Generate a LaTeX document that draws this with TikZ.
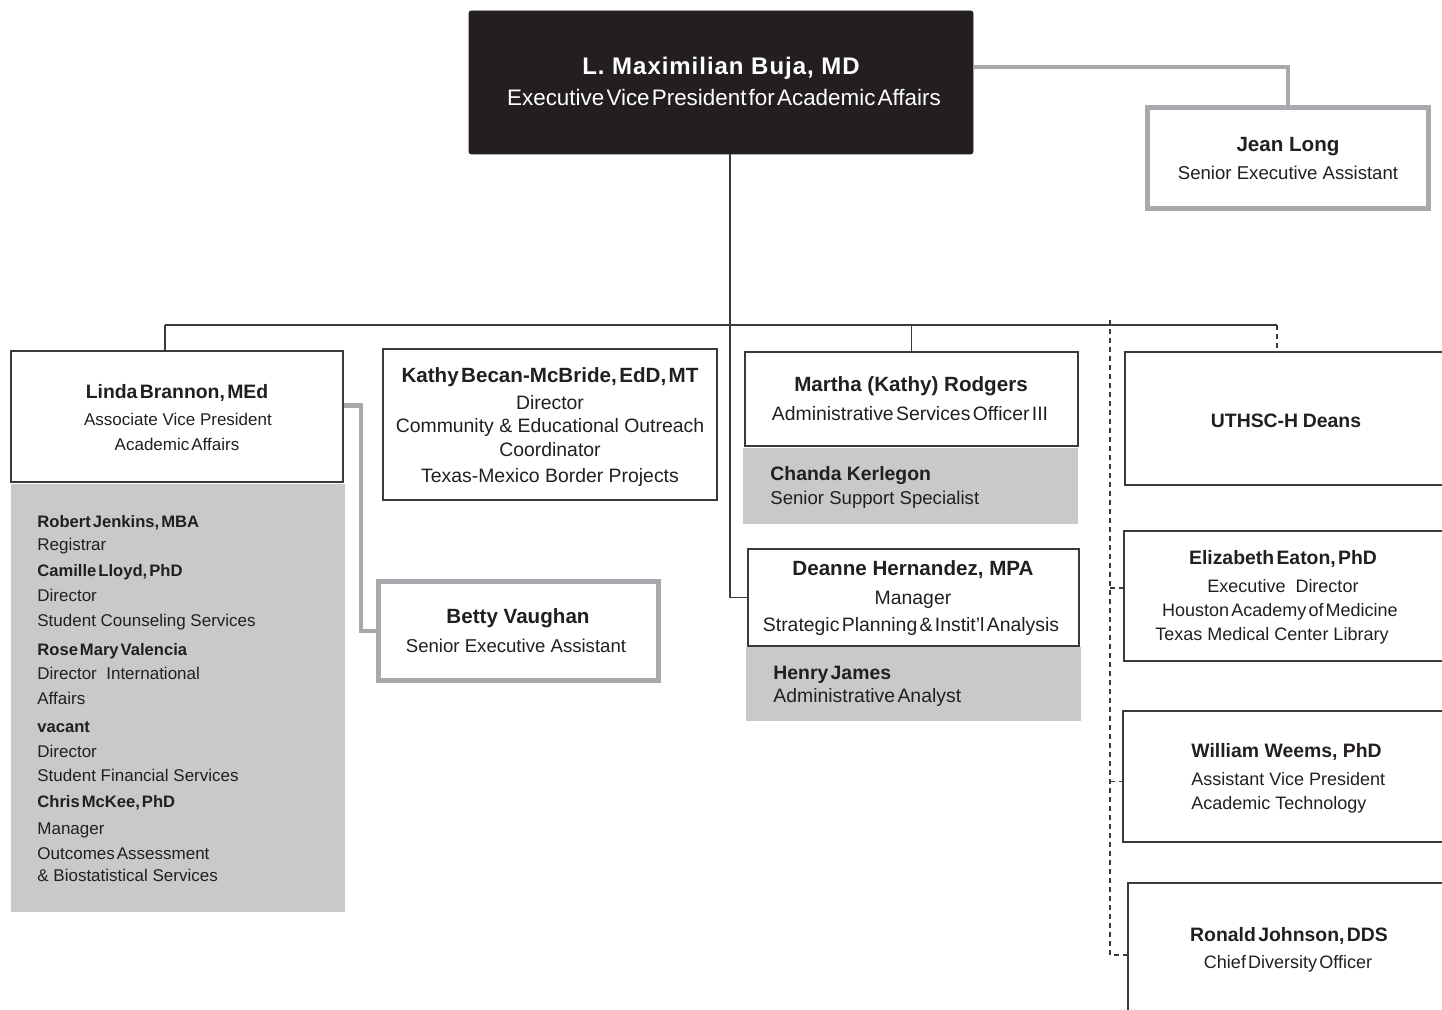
\documentclass[tikz,border=0pt]{standalone}
\usepackage{fontspec}
\setmainfont{Liberation Sans}
\usetikzlibrary{fit}
\definecolor{topblack}{HTML}{231F20}
\definecolor{ink}{HTML}{231F20}
\definecolor{edge}{HTML}{3A3A3A}
\definecolor{lgray}{HTML}{A7A9AC}
\definecolor{pgray}{HTML}{C8C9CB}
\newcommand\bujaName{\fontsize{12}{14}\selectfont\bfseries\addfontfeature{LetterSpace=4}}
\newcommand\bujaSub{\fontsize{11.2}{13}\selectfont\spaceskip=.1em\relax}
\newcommand\nmA{\fontsize{10.3}{12}\selectfont\bfseries}
\newcommand\nmB{\fontsize{9.7}{12}\selectfont\bfseries}
\newcommand\nmC{\fontsize{8.3}{10}\selectfont\bfseries}
\newcommand\bdA{\fontsize{9.3}{11}\selectfont}
\newcommand\bdB{\fontsize{9.7}{11}\selectfont}
\newcommand\bdC{\fontsize{8.5}{10}\selectfont}
\newcommand\bdD{\fontsize{9}{11}\selectfont}
\newcommand\tightsp{\spaceskip=.12em\relax}
\tikzset{
  topbox/.style={fill=topblack, draw=topblack, rounded corners=1.2pt, inner sep=0pt},
  box/.style={draw=edge, line width=0.7pt, fill=white, inner sep=0pt},
  graybox/.style={draw=lgray, line width=2.5pt, fill=white, inner sep=0pt},
  panel/.style={fill=pgray, inner sep=0pt},
  conn/.style={draw=edge, line width=0.65pt},
  gconn/.style={draw=lgray, line width=2.2pt},
  dconn/.style={draw=edge, line width=0.6pt, dash pattern=on 2.5pt off 2pt},
  txt/.style={inner sep=0pt, anchor=mid, text=ink, yshift=-1.3pt},
  ltxt/.style={inner sep=0pt, anchor=mid west, text=ink, yshift=-1.3pt},
  gpn/.style={ltxt, font=\nmC\tightsp},
  gpb/.style={ltxt, font=\bdC}
}
\begin{document}
\begin{tikzpicture}[x=0.5pt,y=-0.5pt]
\useasboundingbox (0,0) rectangle (1442,1010);
\clip (0,0) rectangle (1442,1010);

% ---- panels (gray fill) ----
\node[panel, fit={(11,484)(345,912)}] (lpanel) {};
\node[panel, fit={(743,448)(1078,524)}] (cpanel) {};
\node[panel, fit={(746,647)(1081,721)}] (hpanel) {};

% ---- boxes ----
\node[topbox, fit={(469,11)(973,154)}] (buja) {};
\node[graybox, fit={(1147.5,107.5)(1428.5,208.5)}] (jean) {};
\node[box, fit={(11,351)(343,482)}] (linda) {};
\node[box, fit={(383,349)(717,500)}] (kathy) {};
\node[box, fit={(745,352)(1078,446)}] (martha) {};
\node[box, fit={(748,549)(1079,646)}] (deanne) {};
\node[graybox, fit={(378.5,581.5)(658.5,680.5)}] (betty) {};
\node[box, fit={(1125,352)(1460,485)}] (uthsc) {};
\node[box, fit={(1124,531)(1460,661)}] (eaton) {};
\node[box, fit={(1123,711)(1460,842)}] (weems) {};
\node[box, fit={(1128,883)(1460,1027)}] (johnson) {};

% ---- connectors ----
\coordinate (bl) at (165,325);
\coordinate (br) at (1277,325);
\coordinate (dv) at (1110,320);
\draw[gconn] ([yshift=7.75pt]buja.east) -| (jean.north);
\draw[conn] ([xshift=4.5pt]buja.south) |- (deanne.west);
\draw[conn] (bl) -- (br);
\draw[conn] (bl) -- (bl |- linda.north);
\draw[conn] (martha.north |- bl) -- (martha.north);
\draw[dconn] (br) -- (br |- uthsc.north);
\draw[dconn] (dv) |- (johnson.west);
\draw[dconn] ([yshift=4pt]dv |- eaton.west) -- ([yshift=4pt]eaton.west);
\draw[dconn] ([yshift=-2.5pt]dv |- weems.west) -- ([yshift=-2.5pt]weems.west);
\draw[gconn] ([yshift=5.5pt]linda.east) -- ++(17,0) |- (betty.west);

% ---- texts ----
\node[txt, text=white, font=\bujaName] (bujaN) at (721,67) {L.\ Maximilian\ Buja,\ MD};
\node[txt, text=white, font=\bujaSub] (bujaT) at (724,98) {Executive Vice President for Academic Affairs};

\node[txt, font=\nmA] (jeanN) at (1288,144) {Jean Long};
\node[txt, font=\bdA] (jeanT) at (1288,172) {Senior Executive Assistant};

\node[txt, font=\nmB\tightsp] (lindaN) at (177,391) {Linda Brannon, MEd};
\node[txt, font=\bdC] (lindaT1) at (178,418) {Associate Vice President};
\node[txt, font=\bdC\tightsp] (lindaT2) at (177,443) {Academic Affairs};

\foreach \i/\yy/\st/\tx in {
  1/520/gpn/{Robert Jenkins, MBA},
  2/543/gpb/{Registrar},
  3/569/gpn/{Camille Lloyd, PhD},
  4/594/gpb/{Director},
  5/619/gpb/{Student Counseling Services},
  6/648/gpn/{Rose Mary Valencia},
  7/672/gpb/{Director\ \ International},
  8/697/gpb/{Affairs},
  9/725/gpn/{vacant},
  10/750/gpb/{Director},
  11/774/gpb/{Student Financial Services},
  12/800/gpn/{Chris McKee, PhD},
  13/827/gpb/{Manager},
  14/852/gpb/{Outcomes\hspace{.12em}Assessment},
  15/874/gpb/{\& Biostatistical Services}} {
  \node[\st] (gp\i) at (37,\yy) {\tx};
}

\node[txt, font=\nmA\tightsp] (kathyN) at (550,375) {Kathy Becan-McBride, EdD, MT};
\node[txt, font=\bdB] (kathyT1) at (550,402) {Director};
\node[txt, font=\bdB] (kathyT2) at (550,425) {Community \& Educational Outreach};
\node[txt, font=\bdB] (kathyT3) at (550,449) {Coordinator};
\node[txt, font=\bdB] (kathyT4) at (550,475) {Texas-Mexico Border Projects};

\node[txt, font=\nmA] (marthaN) at (911,384) {Martha (Kathy) Rodgers};
\node[txt, font=\bdB\tightsp] (marthaT) at (910,413) {Administrative Services Officer III};

\node[ltxt, font=\nmB] (chandaN) at (770,473) {Chanda Kerlegon};
\node[ltxt, font=\bdA] (chandaT) at (770,497) {Senior Support Specialist};

\node[txt, font=\nmA] (deanneN) at (913,568) {Deanne Hernandez, MPA};
\node[txt, font=\bdB] (deanneT1) at (913,597) {Manager};
\node[txt, font=\bdB\tightsp] (deanneT2) at (911,624) {Strategic Planning \& Instit'l Analysis};

\node[ltxt, font=\nmB\tightsp] (henryN) at (773,672) {Henry James};
\node[ltxt, font=\bdB\tightsp] (henryT) at (773,695) {Administrative Analyst};

\node[txt, font=\nmA] (bettyN) at (518,616) {Betty Vaughan};
\node[txt, font=\bdA] (bettyT) at (516,645) {Senior Executive Assistant};

\node[txt, font=\nmB\tightsp] (uthscN) at (1286,420) {UTHSC-H\ \ Deans};

\node[txt, font=\nmB\tightsp] (eatonN) at (1283,557) {Elizabeth Eaton, PhD};
\node[txt, font=\bdD] (eatonT1) at (1283,585) {Executive\ \ Director};
\node[txt, font=\bdD\tightsp] (eatonT2) at (1280,609) {Houston Academy of Medicine};
\node[txt, font=\bdD] (eatonT3) at (1272,633) {Texas Medical Center Library};

\node[ltxt, font=\nmB] (weemsN) at (1191,750) {William Weems, PhD};
\node[ltxt, font=\bdD] (weemsT1) at (1191,778) {Assistant Vice President};
\node[ltxt, font=\bdD] (weemsT2) at (1191,802) {Academic Technology};

\node[txt, font=\nmB\tightsp] (johnsonN) at (1289,934) {Ronald Johnson, DDS};
\node[txt, font=\bdD\tightsp] (johnsonT) at (1288,961) {Chief Diversity Officer};
\end{tikzpicture}
\end{document}
